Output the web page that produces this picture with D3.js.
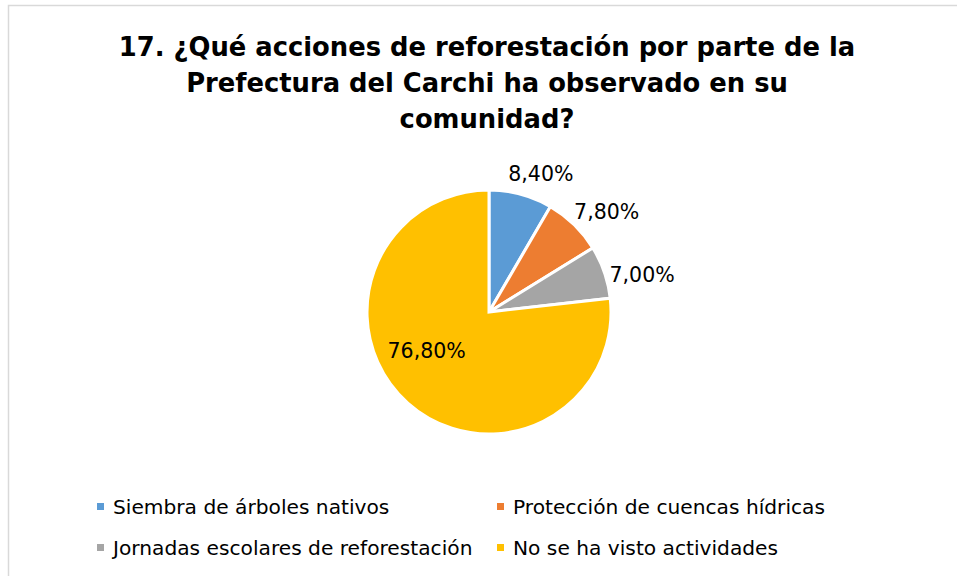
<!DOCTYPE html>
<html>
<head>
<meta charset="utf-8">
<script src="https://cdn.jsdelivr.net/npm/d3@7"></script>
<style>
  body { margin: 0; background: #fff; }
  text { font-family: "DejaVu Sans", sans-serif; fill: #000; }
</style>
</head>
<body>
<div id="chart-area"></div>
<script>
// Data
const titleLines = [
  "17. ¿Qué acciones de reforestación por parte de la",
  "Prefectura del Carchi ha observado en su",
  "comunidad?"
];
const categories = [
  "Siembra de árboles nativos",
  "Protección de cuencas hídricas",
  "Jornadas escolares de reforestación",
  "No se ha visto actividades"
];
const values = [8.4, 7.8, 7.0, 76.8];
const colors = ["#5B9BD5", "#ED7D31", "#A5A5A5", "#FFC000"];

// Dimensions
const width = 957, height = 576;
const cx = 489, cy = 312, radius = 122;

const svg = d3.select("#chart-area")
  .append("svg")
    .attr("width", width)
    .attr("height", height);

// chart border
svg.append("rect")
  .attr("x", 8.5).attr("y", 5.5)
  .attr("width", 960).attr("height", 600)
  .attr("fill", "#fff")
  .attr("stroke", "#d9d9d9")
  .attr("stroke-width", 1.5);

// Title
svg.append("text")
  .attr("x", 487)
  .attr("y", 56)
  .attr("text-anchor", "middle")
  .attr("font-size", "25.8px")
  .attr("font-weight", "bold")
  .selectAll("tspan")
  .data(titleLines)
  .join("tspan")
    .attr("x", 487)
    .attr("dy", (d, i) => i === 0 ? 0 : 36)
    .text(d => d);

// Pie
const pie = d3.pie().sort(null).value(d => d);
const arcs = pie(values);
const arc = d3.arc().innerRadius(0).outerRadius(radius);

const g = svg.append("g")
  .attr("transform", `translate(${cx},${cy})`);

g.selectAll("path")
  .data(arcs)
  .join("path")
    .attr("d", arc)
    .attr("fill", (d, i) => colors[i])
    .attr("stroke", "#fff")
    .attr("stroke-width", 3)
    .attr("stroke-linejoin", "miter");

// Labels: small slices outside end, big one inside (like Excel best fit)
const fmt = v => d3.format(".2f")(v).replace(".", ",") + "%";
g.selectAll("text.lbl")
  .data(arcs)
  .join("text")
    .attr("class", "lbl")
    .attr("font-size", "20.5px")
    .attr("text-anchor", "middle")
    .attr("dominant-baseline", "central")
    .attr("transform", d => {
      const mid = (d.startAngle + d.endAngle) / 2;
      if (d.value > 50) {
        const r = radius * 0.62;
        return `translate(${Math.sin(mid) * r - 12},${-Math.cos(mid) * r - 17})`;
      }
      const a = mid + 0.095;
      const s = Math.sin(a), c = Math.cos(a);
      const r = radius + 20 + 16 * s;
      return `translate(${s * r},${-c * r})`;
    })
    .text(d => fmt(d.value));

// Legend
const legendPos = [[100, 507], [500, 507], [100, 548], [500, 548]];
const legend = svg.append("g");
categories.forEach((cat, i) => {
  const row = legend.append("g")
    .attr("transform", `translate(${legendPos[i][0]},${legendPos[i][1]})`);
  row.append("rect")
    .attr("x", -3).attr("y", -4)
    .attr("width", 7).attr("height", 7)
    .attr("fill", colors[i]);
  row.append("text")
    .attr("x", 13)
    .attr("y", 0)
    .attr("dominant-baseline", "central")
    .attr("font-size", "20.2px")
    .text(cat);
});
</script>
</body>
</html>
